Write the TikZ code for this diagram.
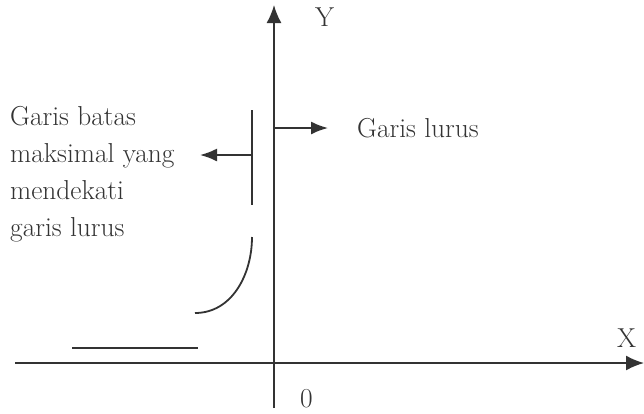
\documentclass[tikz,border=0pt]{standalone}
\usetikzlibrary{arrows.meta}
\definecolor{inkgray}{HTML}{333333}

\begin{document}
\begin{tikzpicture}[
    x=1pt, y=-1pt,
    font=\fontsize{27.4}{37}\selectfont,
    axis/.style={-{Latex[length=18pt,width=15pt]},line width=1.8pt,draw=inkgray},
    pointer/.style={-{Latex[length=17pt,width=13pt]},line width=1.8pt,draw=inkgray},
    mark line/.style={line width=1.8pt,draw=inkgray},
    txt/.style={text=inkgray,inner sep=0pt}
]
\useasboundingbox (0,0) rectangle (644,413);

% Axes
\coordinate (xstart) at (15,363);
\coordinate (xend) at (644,363);
\coordinate (ybottom) at (274,408);
\coordinate (ytop) at (274,5);
\draw[axis] (xstart) -- (xend);
\draw[axis] (ybottom) -- (ytop);

\node[txt,anchor=base west] (ylab) at (315,26) {Y};
\node[txt,anchor=base west] (xlab) at (617,347) {X};
\node[txt,anchor=base west] (zero) at (300,407) {0};

% Vertical limit bar and its pointer
\coordinate (bartop) at (252,110);
\coordinate (barbot) at (252,205);
\coordinate (barmid) at (252,155);
\coordinate (lefttip) at (200,155);
\draw[mark line,line width=2.6pt] (bartop) -- (barbot);
\draw[pointer] (barmid) -- (lefttip);

\node[txt,anchor=north west,align=left] (limit) at (10,106)
    {Garis batas\\maksimal yang\\mendekati\\garis lurus};

% Pointer from the axis
\coordinate (axisjoin) at (274,128);
\coordinate (righttip) at (328,128);
\draw[pointer] (axisjoin) -- (righttip);
\node[txt,anchor=base west] (straight) at (357,137) {Garis lurus};

% Curve bending towards the axis
\coordinate (curvetop) at (252,237);
\coordinate (curvebot) at (195,313);
\draw[mark line] (curvetop) to[out=-90,in=0] (curvebot);

% Flat segment
\coordinate (flatleft) at (72,348);
\coordinate (flatright) at (198,348);
\draw[mark line] (flatleft) -- (flatright);

\end{tikzpicture}
\end{document}
